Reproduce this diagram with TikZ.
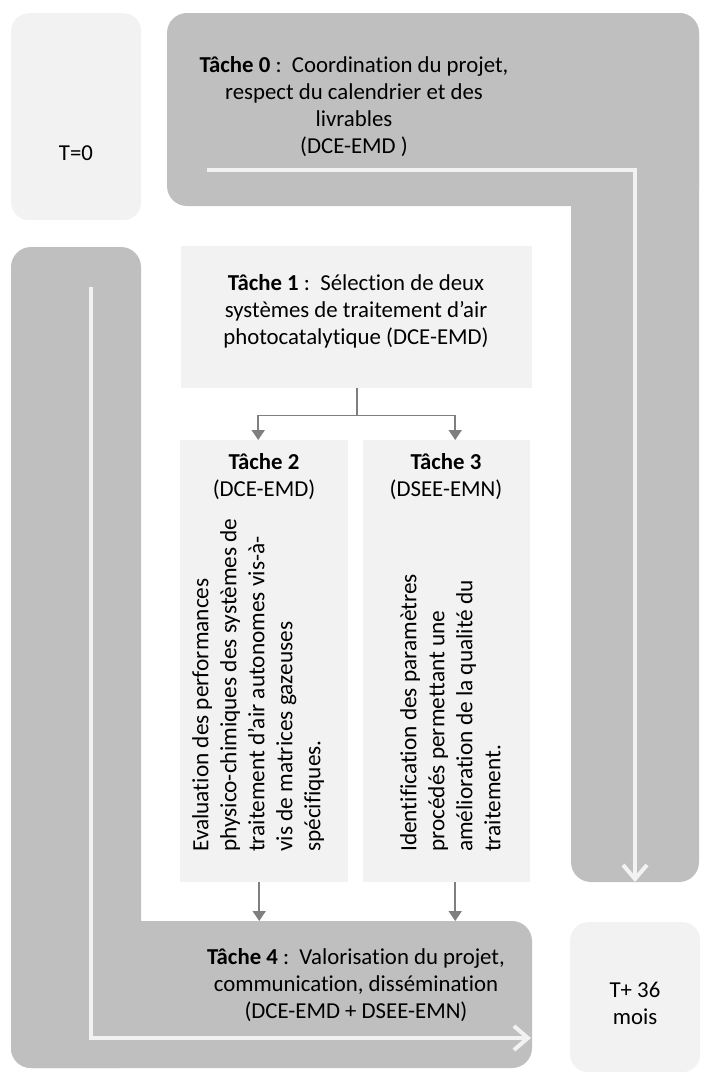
\documentclass[tikz,border=0pt]{standalone}
\usepackage{fontspec}
\setmainfont{Carlito}[Ligatures={NoCommon}]
\usetikzlibrary{arrows.meta}
\definecolor{dk}{HTML}{BFBFBF}
\definecolor{lt}{HTML}{F2F2F2}
\definecolor{cn}{HTML}{7F7F7F}
\definecolor{wl}{HTML}{F2F2F2}
\begin{document}
\begin{tikzpicture}[x=1pt,y=-1pt,
  band/.style={fill=dk, draw=none, rounded corners=20pt},
  roundbox/.style={fill=lt, draw=none, rounded corners=18pt, inner sep=0pt},
  taskbox/.style={fill=lt, draw=none, inner sep=0pt, anchor=north west},
  lbl/.style={font=\fontsize{22.8}{27}\selectfont, align=center, text=black, inner sep=0pt},
  vlbl/.style={lbl, align=left, rotate=90, anchor=north west, font=\fontsize{23.3}{28}\selectfont},
  flow/.style={draw=wl, line width=4pt, -{Straight Barb[length=14pt,width=24pt]}},
  conn/.style={draw=cn, line width=1.8pt},
  connarrow/.style={conn, -{Triangle[length=10pt,width=13pt]}}]
\useasboundingbox (0,0) rectangle (701,1072);
\fill[white] (0,0) rectangle (701,1072);

% T=0 box
\node[roundbox, minimum width=130pt, minimum height=207pt, anchor=north west] (t0box) at (11,13) {};
\node[lbl] (t0lbl) at (76,153) {T=0};

% Tache 0 band (L shape)
\fill[band] (167,13) rectangle (699,206);
\fill[band] (571,13) rectangle (699,882);
\node[lbl] (task0) at (354,107) {\textbf{Tâche 0} :\ \ Coordination du projet,\\ respect du calendrier et des\\ livrables\\ (DCE-EMD\ )};
\coordinate (f0a) at (207,170);
\coordinate (f0b) at (635,170);
\coordinate (f0c) at (635,882);
\draw[flow] (f0a) -- (f0b) -- (f0c);

% Tache 4 band (L shape)
\fill[band] (11,247) rectangle (141,1068);
\fill[band] (11,921) rectangle (532,1068);
\node[lbl] (task4) at (356,985) {\textbf{Tâche 4} :\ \ Valorisation du projet,\\ communication, dissémination\\ (DCE-EMD + DSEE-EMN)};
\coordinate (f4a) at (91,287);
\coordinate (f4b) at (91,1038);
\coordinate (f4c) at (531,1038);
\draw[flow] (f4a) -- (f4b) -- (f4c);

% T+36 box
\node[roundbox, minimum width=130pt, minimum height=150pt, anchor=north west] (tendbox) at (570,922) {};
\node[lbl] (tendlbl) at (635,1003) {T+ 36\\ mois};

% Tache 1
\node[taskbox, minimum width=351pt, minimum height=142pt] (t1) at (181,246) {};
\node[lbl] (t1txt) at (356,311) {\textbf{Tâche 1} :\ \ Sélection de deux\\ systèmes de traitement d’air\\ photocatalytique (DCE-EMD)};

% Tache 2
\node[taskbox, minimum width=168pt, minimum height=442pt] (t2) at (180,440) {};
\node[lbl] (t2head) at (264,477) {\textbf{Tâche 2}\\ (DCE-EMD)};
\node[vlbl] (t2body) at (192,852) {Evaluation des performances\\ physico-chimiques des systèmes de\\ traitement d’air autonomes vis-à-\\ vis de matrices gazeuses\\ spécifiques.};

% Tache 3
\node[taskbox, minimum width=167pt, minimum height=442pt] (t3) at (363,440) {};
\node[lbl] (t3head) at (446,477) {\textbf{Tâche 3}\\ (DSEE-EMN)};
\node[vlbl] (t3body) at (400,852) {Identification des paramètres\\ procédés permettant une\\ amélioration de la qualité du\\ traitement.};

% connectors
\coordinate (t4top) at (0,921);
\draw[conn] (t1.south) -- ++(0,27) coordinate (split);
\draw[connarrow] (split) -| ([xshift=-6pt]t2.north);
\draw[connarrow] (split) -| ([xshift=8.5pt]t3.north);
\draw[connarrow] ([xshift=-5pt]t2.south) -- ([xshift=-5pt]t2.south |- t4top);
\draw[connarrow] ([xshift=8.5pt]t3.south) -- ([xshift=8.5pt]t3.south |- t4top);
\end{tikzpicture}
\end{document}
